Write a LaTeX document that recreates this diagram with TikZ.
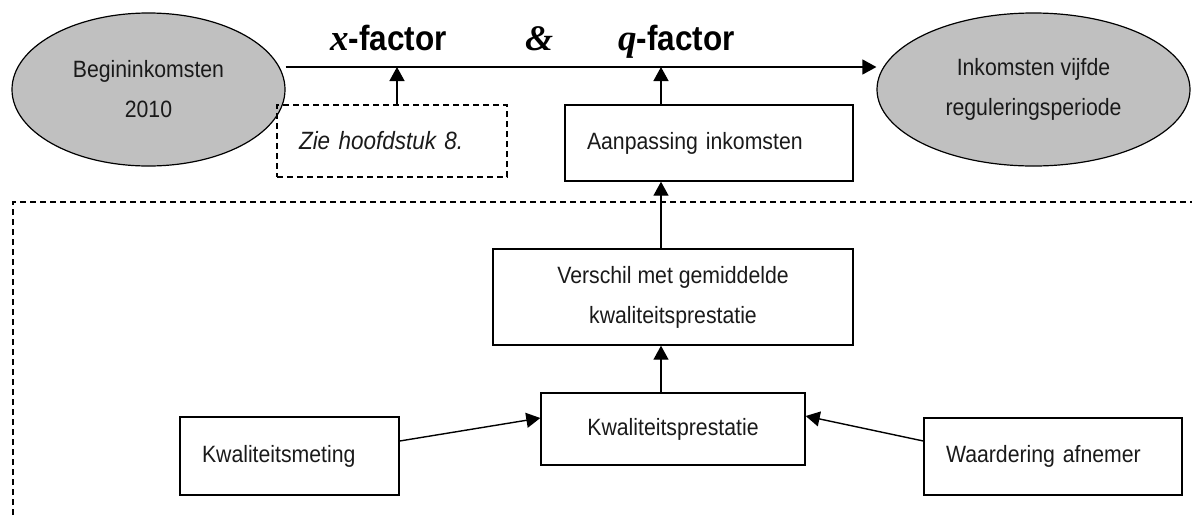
\documentclass[tikz,border=0pt]{standalone}
\usepackage{fontspec}
\setmainfont{Liberation Sans}[FakeStretch=0.9]
\newfontfamily\serifff{Liberation Serif}
\usetikzlibrary{shapes.geometric,arrows.meta}
\definecolor{ellgray}{HTML}{C0C0C0}
\definecolor{txt}{HTML}{1A1A1A}
\begin{document}
\begin{tikzpicture}[x=1pt,y=-1pt,
  every node/.style={font=\fontsize{23.6}{40}\selectfont, inner sep=0pt, text=txt},
  ell/.style={ellipse, draw, fill=ellgray, line width=1.2pt, minimum width=273pt, minimum height=153pt, align=center},
  lbox/.style={draw, line width=1.4pt, align=left, inner xsep=22pt},
  cbox/.style={draw, line width=1.4pt, align=center},
  arr/.style={line width=1.4pt, -{Triangle[length=14pt,width=15pt]}},
  dsh/.style={line width=1.4pt, dash pattern=on 6pt off 4pt},
  title/.style={anchor=base west, text=black, font=\fontsize{35}{35}\selectfont\bfseries}]
\useasboundingbox (0,0) rectangle (1192,515);

% top ellipses
\node[ell] (beg) at (148.5,89.5) {Begininkomsten\\2010};
\node[ell, minimum width=313pt] (ink) at (1033.5,89.5) {Inkomsten vijfde\\reguleringsperiode};

% titles
\node[title] (xf) at (330,50) {{\serifff\fontsize{37}{37}\selectfont\bfseries\itshape x}-factor};
\node[title] (amp) at (525,50) {{\serifff\fontsize{36}{36}\selectfont\bfseries\itshape \&}};
\node[title] (qf) at (618,50) {{\serifff\fontsize{37}{37}\selectfont\bfseries\itshape q}-factor};

% boxes
\node[lbox, dsh, text width=186pt, minimum height=72pt, font=\fontsize{25}{28}\selectfont\itshape] (zie) at (392,141) {Zie hoofdstuk 8.};
\node[lbox, text width=244pt, minimum height=76pt] (aan) at (709,143) {Aanpassing inkomsten};
\node[cbox, minimum width=360pt, minimum height=96pt] (ver) at (673,297) {Verschil met gemiddelde\\kwaliteitsprestatie};
\node[cbox, minimum width=264pt, minimum height=72pt] (kwa) at (673,429) {Kwaliteitsprestatie};
\node[lbox, text width=175pt, minimum height=78pt] (met) at (289.5,456) {Kwaliteitsmeting};
\node[lbox, text width=214pt, minimum height=77pt] (waa) at (1053,456.5) {Waardering afnemer};

% connectors
\coordinate (xm) at (397,67);
\coordinate (qm) at (661,67);
\draw[arr] (beg.east |- xm) -- (ink.west |- xm);
\draw[arr] (zie.north -| xm) -- (xm);
\draw[arr] (aan.north -| qm) -- (qm);
\draw[arr] (ver.north -| qm) -- (aan.south -| qm);
\draw[arr] (kwa.north -| qm) -- (ver.south -| qm);
\draw[arr] (met.east |- 0,441) -- (kwa.west |- 0,418);
\draw[arr] (waa.west |- 0,441) -- (kwa.east |- 0,416);

% dashed frame
\draw[dsh] (13,515) -- (13,202) -- (1192,202);
\end{tikzpicture}
\end{document}
